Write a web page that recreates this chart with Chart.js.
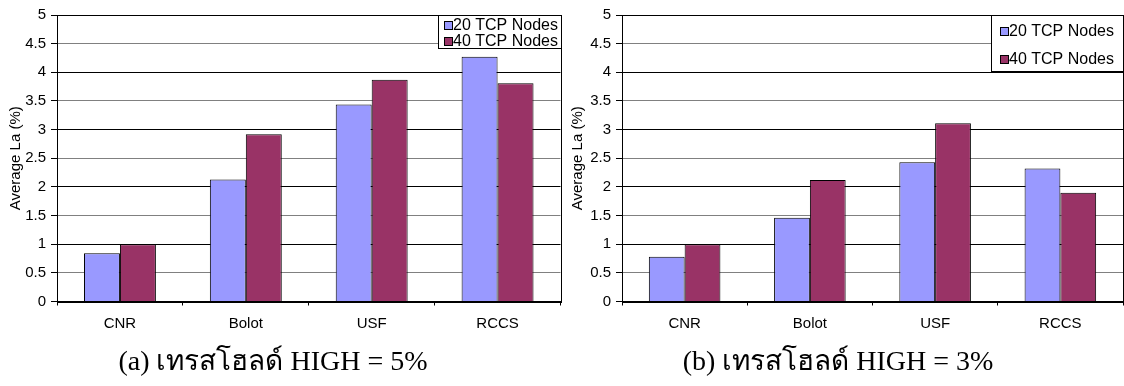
<!DOCTYPE html>
<html lang="th">
<head>
    <meta charset="UTF-8">
    <title>Average La - HIGH threshold</title>
    <script src="https://cdn.jsdelivr.net/npm/chart.js"></script>
</head>
<style>
    body {
        margin: 0;
        background: #fff;
    }

    .screen {
        position: relative;
        width: 1124px;
        height: 386px;
    }

    .panel {
        position: absolute;
        top: 0;
        width: 562px;
        height: 386px;
    }
</style>
<body>
    <div class="screen">
        <div class="panel" style="left: 0px;"><canvas id="chartA" width="562" height="386"></canvas></div>
        <div class="panel" style="left: 562px;"><canvas id="chartB" width="562" height="386"></canvas></div>
    </div>

    <script>
        // data
        var categories = ['CNR', 'Bolot', 'USF', 'RCCS'];
        var seriesNames = ['20 TCP Nodes', '40 TCP Nodes'];
        var high5_20 = [0.84, 2.13, 3.44, 4.27];
        var high5_40 = [1.00, 2.92, 3.87, 3.81];
        var high3_20 = [0.78, 1.46, 2.43, 2.32];
        var high3_40 = [1.00, 2.12, 3.11, 1.90];
        var yTicks = [0, 0.5, 1, 1.5, 2, 2.5, 3, 3.5, 4, 4.5, 5];
        var captions = ['(a) เทรสโฮลด์ HIGH = 5%', '(b) เทรสโฮลด์ HIGH = 3%'];

        var colors = ['#9999FF', '#993366'];
        var sans = "'Liberation Sans', Arial, sans-serif";
        var serif = "'Liberation Serif', 'DejaVu Serif', serif";

        // frame round the plot area, excel style legend box, caption below
        var framePlugin = {
            id: 'frameLegend',
            afterDraw: function(chart, args, opts) {
                var ctx = chart.ctx;
                var a = chart.chartArea;
                ctx.save();
                ctx.strokeStyle = '#000';
                ctx.lineWidth = 1;
                ctx.strokeRect(Math.round(a.left) + 0.5, Math.round(a.top) + 0.5,
                    Math.round(a.right - a.left), Math.round(a.bottom - a.top));

                // legend
                var w = opts.width, h = opts.height;
                var x0 = Math.round(a.right) - w, y0 = Math.round(a.top);
                ctx.fillStyle = '#fff';
                ctx.fillRect(x0, y0, w, h);
                ctx.strokeRect(x0 + 0.5, y0 + 0.5, w, h);
                ctx.font = '16px ' + sans;
                ctx.textBaseline = 'middle';
                ctx.textAlign = 'left';
                chart.data.datasets.forEach(function(ds, i) {
                    var cy = y0 + opts.rows[i];
                    ctx.fillStyle = ds.backgroundColor;
                    ctx.fillRect(x0 + opts.boxX, cy - 4, 9, 9);
                    ctx.strokeStyle = '#000';
                    ctx.strokeRect(x0 + opts.boxX + 0.5, cy - 4 + 0.5, 8, 8);
                    ctx.fillStyle = '#000';
                    ctx.fillText(ds.label, x0 + opts.boxX + 9, cy + 1);
                });

                // caption
                ctx.font = '28px ' + serif;
                ctx.textAlign = 'center';
                ctx.fillText(opts.caption, chart.width / 2 + opts.captionShift, 363);
                ctx.restore();
            }
        };

        function makeChart(id, s20, s40, yWidth, padRight, legendOpts) {
            var ctx = document.getElementById(id).getContext('2d');
            return new Chart(ctx, {
                type: 'bar',
                data: {
                    labels: categories,
                    datasets: [{
                        label: seriesNames[0],
                        data: s20,
                        backgroundColor: colors[0],
                        borderColor: '#000',
                        borderWidth: 1,
                        categoryPercentage: 2 / 3.5,
                        barPercentage: 1.0
                    }, {
                        label: seriesNames[1],
                        data: s40,
                        backgroundColor: colors[1],
                        borderColor: '#000',
                        borderWidth: 1,
                        categoryPercentage: 2 / 3.5,
                        barPercentage: 1.0
                    }]
                },
                options: {
                    responsive: false,
                    animation: false,
                    devicePixelRatio: 1,
                    layout: {
                        padding: { top: 15, right: padRight, left: 0, bottom: 42.5 }
                    },
                    plugins: {
                        legend: { display: false },
                        tooltip: { enabled: false },
                        frameLegend: legendOpts
                    },
                    scales: {
                        x: {
                            offset: true,
                            grid: {
                                offset: true,
                                drawOnChartArea: false,
                                tickLength: 4,
                                tickColor: '#000'
                            },
                            border: { color: '#000' },
                            ticks: {
                                color: '#000',
                                padding: 9,
                                font: { family: sans, size: 15 }
                            },
                            afterFit: function(s) { s.height = 42; }
                        },
                        y: {
                            min: 0,
                            max: 5,
                            afterBuildTicks: function(s) {
                                s.ticks = yTicks.map(function(v) { return { value: v }; });
                            },
                            grid: {
                                color: function(c) {
                                    return c.tick && c.tick.value % 1 === 0 ? '#000' : '#808080';
                                },
                                tickColor: '#000',
                                tickLength: 6
                            },
                            border: { color: '#000' },
                            ticks: {
                                color: '#000',
                                padding: 5,
                                font: { family: sans, size: 15 },
                                callback: function(v) { return String(v); }
                            },
                            title: {
                                display: true,
                                text: 'Average La (%)',
                                color: '#000',
                                font: { family: sans, size: 15 },
                                padding: { top: 7, bottom: 0 }
                            },
                            afterFit: function(s) { s.width = yWidth; }
                        }
                    }
                },
                plugins: [framePlugin]
            });
        }

        makeChart('chartA', high5_20, high5_40, 57, 1.5,
            { width: 123, height: 33, boxX: 6, rows: [10, 26], caption: captions[0], captionShift: -8 });
        makeChart('chartB', high3_20, high3_40, 60, 1,
            { width: 132, height: 56, boxX: 9, rows: [16, 44], caption: captions[1], captionShift: -5 });
    </script>
</body>
</html>
